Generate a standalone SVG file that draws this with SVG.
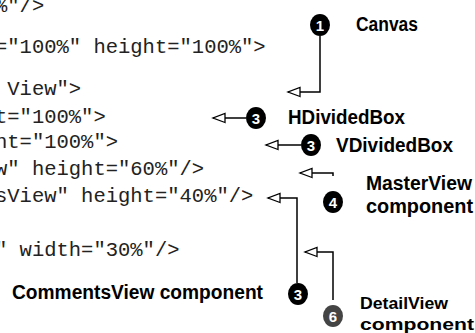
<svg xmlns="http://www.w3.org/2000/svg" width="475" height="333" viewBox="0 0 475 333">
<style>
.code{font-family:"Liberation Mono","Courier New",monospace;font-size:20.5px;fill:#222;}
.lbl{font-family:"Liberation Sans",Arial,sans-serif;font-weight:bold;font-size:20px;fill:#000;}
.sm{font-size:17px;}
.num{font-family:"Liberation Sans",Arial,sans-serif;font-weight:bold;font-size:15px;fill:#fff;text-anchor:middle;}
.conn{fill:none;stroke:#000;stroke-width:1.5;marker-end:url(#arr);}
</style>
<defs>
<marker id="arr" markerUnits="userSpaceOnUse" markerWidth="16" markerHeight="12" viewBox="-2 -6 16 12" refX="12" refY="0" orient="auto">
<path d="M0,-4.5 L12,0 L0,4.5 Z" fill="#fff" stroke="#000" stroke-width="1.3"/>
</marker>
</defs>
<rect width="475" height="333" fill="#fff"/>
<g id="code">
<text class="code" x="-5" y="12">%"/&gt;</text>
<text class="code" x="-5" y="53">="100%" height="100%"&gt;</text>
<text class="code" x="7.3" y="95">View"&gt;</text>
<text class="code" x="-5" y="123">t="100%"&gt;</text>
<text class="code" x="-5" y="148">nt="100%"&gt;</text>
<text class="code" x="-5" y="175">w" height="60%"/&gt;</text>
<text class="code" x="-5" y="202">sView" height="40%"/&gt;</text>
<text class="code" x="-5" y="256">" width="30%"/&gt;</text>
</g>
<g id="connectors">
<path class="conn" d="M320,36 V92 H288"/>
<path class="conn" d="M246,118 H213"/>
<path class="conn" d="M301,145 H266"/>
<path class="conn" d="M333,176 V173 H300"/>
<path class="conn" d="M297,283 V198 H268"/>
<path class="conn" d="M333,300 V252 H305"/>
</g>
<g id="canvas">
<ellipse cx="320" cy="25" rx="10" ry="11"/>
<text class="num" x="320" y="30.5">1</text>
<text class="lbl" x="356" y="31" textLength="62" lengthAdjust="spacingAndGlyphs">Canvas</text>
</g>
<g id="hdividedbox">
<ellipse cx="256" cy="118" rx="10" ry="11"/>
<text class="num" x="256" y="123.5">3</text>
<text class="lbl" x="288" y="124" textLength="117" lengthAdjust="spacingAndGlyphs">HDividedBox</text>
</g>
<g id="vdividedbox">
<ellipse cx="311" cy="145" rx="10" ry="11"/>
<text class="num" x="311" y="150.5">3</text>
<text class="lbl" x="336" y="152" textLength="117" lengthAdjust="spacingAndGlyphs">VDividedBox</text>
</g>
<g id="masterview">
<ellipse cx="333" cy="202" rx="10" ry="11"/>
<text class="num" x="333" y="207.5">4</text>
<text class="lbl" x="366" y="190" textLength="106" lengthAdjust="spacingAndGlyphs">MasterView</text>
<text class="lbl" x="366" y="213" textLength="107" lengthAdjust="spacingAndGlyphs">component</text>
</g>
<g id="commentsview">
<ellipse cx="298" cy="294" rx="10" ry="11"/>
<text class="num" x="298" y="299.5">3</text>
<text class="lbl" x="12" y="299" textLength="251" lengthAdjust="spacingAndGlyphs">CommentsView component</text>
</g>
<g id="detailview">
<ellipse cx="333" cy="316" rx="10" ry="11" fill="#444"/>
<text class="num" x="333" y="321.5">6</text>
<text class="lbl sm" x="360" y="309" textLength="88" lengthAdjust="spacingAndGlyphs">DetailView</text>
<text class="lbl sm" x="360" y="330" textLength="114" lengthAdjust="spacingAndGlyphs">component</text>
</g>
</svg>
